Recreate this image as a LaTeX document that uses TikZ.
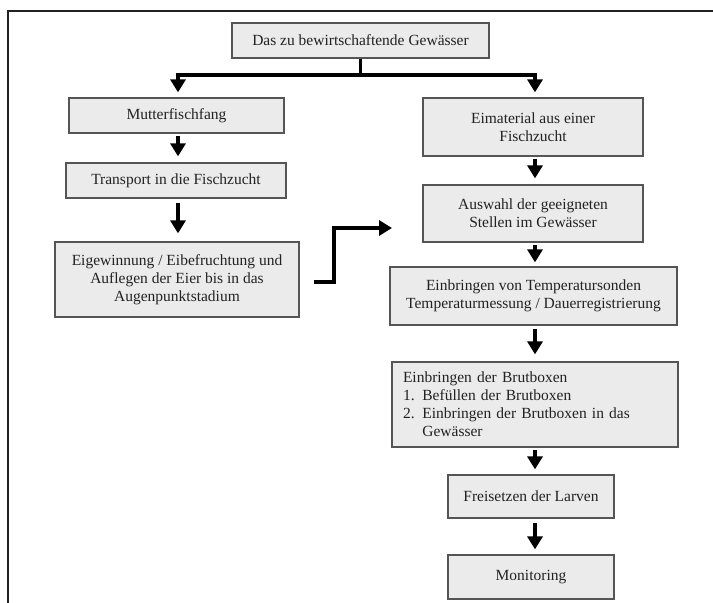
\documentclass[tikz,border=0pt]{standalone}
\usepackage{fontspec}
\setmainfont{Liberation Serif}
\usetikzlibrary{arrows.meta}
\definecolor{boxfill}{HTML}{EBEBEB}
\definecolor{boxline}{HTML}{555555}
\definecolor{txt}{HTML}{222222}
\tikzset{
  box/.style={draw=boxline, fill=boxfill, line width=1.3pt, inner sep=0pt,
    font=\fontsize{15.5}{18}\selectfont, text=txt, align=center},
  arr/.style={line width=3.5pt, -{Triangle[width=15pt,length=13pt]}},
  bar/.style={line width=3.5pt},
  frame/.style={line width=2.2pt, draw=txt}
}
\begin{document}
\begin{tikzpicture}[x=1pt,y=-1pt]
\useasboundingbox (0,0) rectangle (713,603);
\draw[frame] (8,603) -- (8,11) -- (713,11);

\node[box, minimum width=257pt, minimum height=35pt] (top) at (360.5,40.5) {Das zu bewirtschaftende Gewässer};
\node[box, minimum width=215pt, minimum height=35pt] (mutter) at (176.5,115.5) {Mutterfischfang};
\node[box, minimum width=220pt, minimum height=35pt] (transport) at (176,180.5) {Transport in die Fischzucht};
\node[box, minimum width=244pt, minimum height=75pt] (eigew) at (177,279.5) {Eigewinnung / Eibefruchtung und\\Auflegen der Eier bis in das\\Augenpunktstadium};
\node[box, minimum width=220pt, minimum height=58pt] (eimat) at (533,127) {Eimaterial aus einer\\Fischzucht};
\node[box, minimum width=220pt, minimum height=57pt] (auswahl) at (533,213.5) {Auswahl der geeigneten\\Stellen im Gewässer};
\node[box, minimum width=287pt, minimum height=58pt] (temp) at (533.5,296) {Einbringen von Temperatursonden\\Temperaturmessung / Dauerregistrierung};
\node[box, minimum width=286pt, minimum height=85pt, align=left, text width=264pt] (brut) at (535,404.5) {Einbringen der Brutboxen\\1. Befüllen der Brutboxen\\2. Einbringen der Brutboxen in das\\\phantom{2. }Gewässer};
\node[box, minimum width=166pt, minimum height=43pt] (frei) at (531,496.5) {Freisetzen der Larven};
\node[box, minimum width=166pt, minimum height=44pt] (moni) at (531,577) {Monitoring};

\coordinate (barL) at (178,75);
\coordinate (barR) at (535,75);
\coordinate (lc) at (178,0);
\coordinate (rc) at (535,0);
\coordinate (c1) at (334,228);
\coordinate (cend) at (392,228);

\draw[bar] (top.south) -- (top.south |- barL);
\draw[bar] ([xshift=-1.75pt]barL) -- ([xshift=1.75pt]barR);
\draw[arr, shorten >=5pt] (barL) -- (mutter.north -| barL);
\draw[arr, shorten >=5pt] (barR) -- (eimat.north -| barR);

\draw[arr, shorten <=2pt, shorten >=6pt] (mutter.south -| lc) -- (transport.north -| lc);
\draw[arr, shorten <=4pt, shorten >=8pt] (transport.south -| lc) -- (eigew.north -| lc);

\draw[arr] ([xshift=14pt,yshift=-2.5pt]eigew.east) -| (c1) -- (cend);

\draw[arr, shorten <=2pt, shorten >=6pt] (eimat.south -| rc) -- (auswahl.north -| rc);
\draw[arr, shorten <=2pt, shorten >=4pt] (auswahl.south -| rc) -- (temp.north -| rc);
\draw[arr, shorten <=3pt, shorten >=7pt] (temp.south -| rc) -- (brut.north -| rc);
\draw[arr, shorten <=2pt, shorten >=5pt] (brut.south -| rc) -- (frei.north -| rc);
\draw[arr, shorten <=4pt, shorten >=5pt] (frei.south -| rc) -- (moni.north -| rc);
\end{tikzpicture}
\end{document}
